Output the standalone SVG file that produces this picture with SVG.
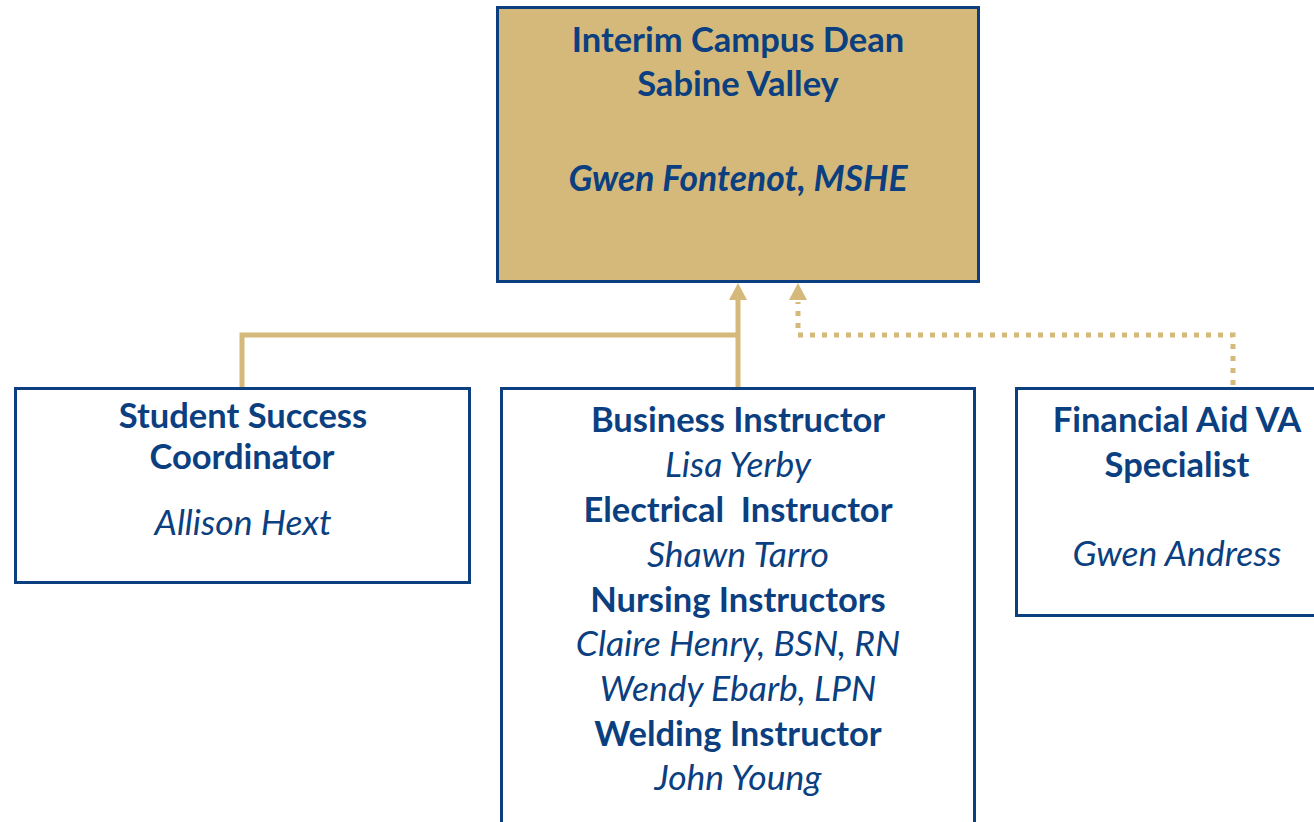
<svg xmlns="http://www.w3.org/2000/svg" width="1314" height="822" viewBox="0 0 1314 822">
<style>
.box{fill:#fff;stroke:#0b3f7f;stroke-width:3}
.top{fill:#d4b97a;stroke:#0b3f7f;stroke-width:3}
text{font-family:Lato,"Open Sans",sans-serif;fill:#0b3f7f;text-anchor:middle;font-size:34.5px}
.b{font-weight:bold}
.i{font-style:italic;font-size:35.5px}
.b.i{font-size:35.5px}
.solid{fill:none;stroke:#d4b97a;stroke-width:5}
.dot{fill:none;stroke:#d4b97a;stroke-width:5;stroke-dasharray:5 7}
</style>
<g id="connectors">
<path class="solid" d="M242,388 V335 H738"/>
<path class="solid" d="M738,388 V300"/>
<path d="M729,300 L738,283 L747,300 Z" fill="#d4b97a"/>
<path class="dot" d="M1233,385 V335 H798 V302"/>
<path d="M789,300 L798,283 L807,300 Z" fill="#d4b97a"/>
</g>
<g id="dean">
<rect class="top" x="497.5" y="7.5" width="481" height="274"/>
<text class="b" x="738" y="52">Interim Campus Dean</text>
<text class="b" x="738" y="96">Sabine Valley</text>
<text class="b i" x="738" y="191">Gwen Fontenot, MSHE</text>
</g>
<g id="ssc">
<rect class="box" x="15.5" y="388.5" width="454" height="194"/>
<text class="b" x="243" y="428">Student Success</text>
<text class="b" x="242" y="469">Coordinator</text>
<text class="i" x="243" y="535">Allison Hext</text>
</g>
<g id="instructors">
<rect class="box" x="501.5" y="388.5" width="473" height="440"/>
<text class="b" x="738" y="432">Business Instructor</text>
<text class="i" x="738" y="477">Lisa Yerby</text>
<text class="b" x="738" y="522" xml:space="preserve">Electrical  Instructor</text>
<text class="i" x="738" y="567">Shawn Tarro</text>
<text class="b" x="738" y="612">Nursing Instructors</text>
<text class="i" x="738" y="656">Claire Henry, BSN, RN</text>
<text class="i" x="738" y="701">Wendy Ebarb, LPN</text>
<text class="b" x="738" y="746">Welding Instructor</text>
<text class="i" x="738" y="790">John Young</text>
</g>
<g id="finaid">
<rect class="box" x="1016.5" y="388.5" width="310" height="227"/>
<text class="b" x="1177" y="432">Financial Aid VA</text>
<text class="b" x="1177" y="477">Specialist</text>
<text class="i" x="1177" y="566">Gwen Andress</text>
</g>
</svg>
